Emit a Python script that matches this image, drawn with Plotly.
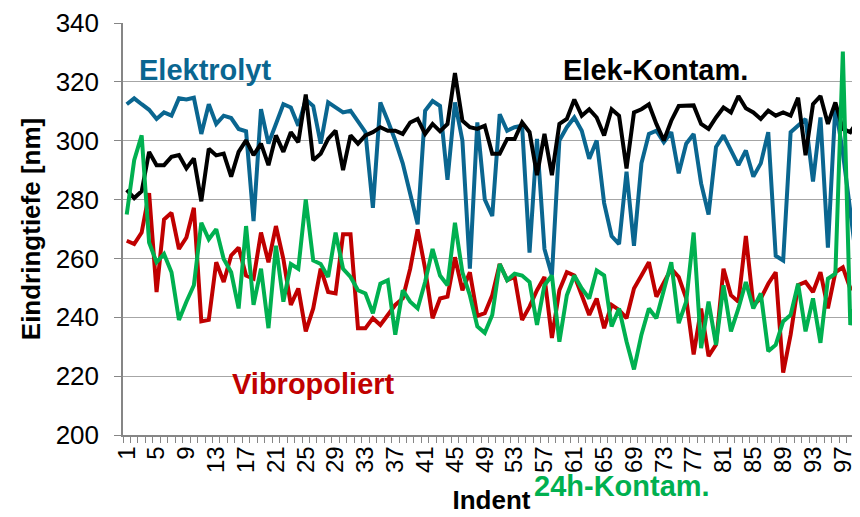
import plotly.graph_objects as go

indent = list(range(1, 101))

elektrolyt = [312.4, 314.4, 312.4, 310.5, 307.4, 309.6, 308.5, 314.4, 314.0, 314.6, 302.3, 312.4,
              305.7, 308.5, 307.7, 304.0, 303.2, 272.7, 310.7, 299.0, 305.7, 312.4, 311.3, 305.1,
              314.0, 311.8, 299.0, 313.0, 311.3, 309.6, 310.2, 306.8, 302.9, 277.2, 313.0, 306.8,
              300.1, 292.3, 282.2, 271.6, 310.2, 313.5, 311.8, 286.7, 313.0, 300.1, 256.5, 306.2,
              280.0, 274.4, 309.0, 303.4, 304.6, 305.1, 262.0, 300.6, 263.2, 254.2, 300.1, 304.6,
              307.9, 303.4, 293.9, 300.1, 278.8, 267.6, 264.9, 289.5, 264.3, 292.3, 302.3, 303.4,
              299.5, 302.9, 288.9, 299.0, 302.3, 285.5, 274.9, 297.9, 301.8, 296.7, 291.7, 296.7,
              287.8, 292.3, 302.9, 260.9, 259.3, 302.9, 305.1, 307.4, 286.1, 307.9, 263.7, 311.8,
              296.0, 276.0, 256.0, 275.0]

elek_kontam = [283.3, 280.5, 282.8, 296.2, 291.7, 291.7, 294.5, 295.1, 290.6, 294.0, 279.4, 297.3,
               295.0, 295.6, 287.8, 296.2, 300.1, 295.1, 299.0, 291.7, 301.8, 296.2, 302.9, 299.5,
               315.7, 293.4, 295.6, 300.6, 303.4, 290.0, 301.8, 299.0, 301.8, 302.9, 304.6, 303.4,
               303.4, 302.3, 306.2, 307.4, 302.3, 305.7, 303.2, 305.7, 323.0, 306.8, 304.6, 304.0,
               305.1, 295.6, 295.6, 300.6, 300.6, 306.2, 302.9, 288.3, 302.3, 288.3, 305.7, 307.4,
               314.0, 308.5, 310.7, 307.9, 301.8, 310.7, 308.5, 290.6, 309.6, 310.7, 312.4, 305.7,
               300.1, 306.8, 311.8, 311.8, 312.0, 305.7, 304.0, 307.9, 311.3, 309.6, 315.2, 311.0,
               309.6, 307.4, 310.2, 308.5, 309.6, 308.5, 314.6, 295.1, 312.4, 315.2, 305.7, 313.0,
               304.0, 302.9, 306.8, 309.6]

vibropoliert = [266.0, 264.9, 268.8, 282.2, 248.6, 273.2, 275.5, 263.2, 267.1, 277.2, 238.6, 239.1,
                258.7, 252.0, 261.0, 263.7, 254.2, 253.1, 268.8, 258.7, 271.0, 259.8, 244.2, 249.8,
                235.2, 243.0, 256.5, 248.6, 248.1, 268.2, 268.2, 236.3, 236.3, 239.7, 237.4, 240.8,
                244.2, 246.4, 256.5, 269.9, 256.5, 239.7, 246.4, 247.0, 260.4, 249.2, 255.3, 240.5,
                241.4, 247.5, 258.1, 252.6, 253.7, 239.1, 243.6, 249.2, 253.7, 233.0, 249.2, 255.3,
                254.2, 247.5, 240.8, 246.4, 236.3, 244.2, 242.5, 239.7, 249.8, 254.2, 258.7, 247.0,
                252.0, 256.5, 253.7, 246.4, 227.4, 243.0, 226.8, 230.7, 256.5, 247.5, 245.3, 267.6,
                244.2, 246.4, 251.4, 255.3, 221.2, 234.1, 250.9, 252.0, 248.6, 255.3, 243.0, 255.3,
                257.0, 249.8, 249.8, 234.0]

h24_kontam = [274.9, 293.4, 301.8, 265.4, 258.7, 261.5, 255.3, 239.1, 245.3, 250.9, 272.1, 266.5,
              269.9, 259.8, 255.3, 243.0, 271.0, 244.2, 256.5, 236.3, 264.3, 245.3, 258.1, 256.5,
              280.0, 259.3, 258.1, 253.7, 268.8, 256.5, 253.7, 249.2, 248.1, 241.4, 251.4, 252.6,
              234.1, 249.2, 245.3, 243.0, 252.0, 263.2, 254.2, 250.9, 272.1, 255.3, 247.5, 236.9,
              234.7, 240.8, 258.1, 252.6, 254.8, 254.2, 252.0, 237.4, 250.9, 254.2, 231.7, 247.5,
              254.2, 249.8, 246.4, 255.9, 254.2, 236.9, 243.0, 231.8, 222.3, 234.1, 243.0, 239.7,
              249.2, 258.7, 238.0, 245.3, 268.8, 229.5, 245.3, 230.6, 250.9, 235.2, 243.0, 252.0,
              243.0, 248.1, 228.5, 230.6, 238.6, 240.8, 251.4, 235.2, 246.4, 231.3, 253.1, 254.8,
              330.3, 237.4, 248.1, 250.0]

x_tick_labels = [str(v) for v in range(1, 98, 4)]
y_ticks = [200, 220, 240, 260, 280, 300, 320, 340]

BLUE = "#0A6690"
RED = "#C00000"
GREEN = "#00B050"
BLACK = "#000000"
GRID = "#A6A6A6"
AXIS = "#868686"
FONT = "Liberation Sans, Arial, sans-serif"

fig = go.Figure()
for name, ys, col in [("Elektrolyt", elektrolyt, BLUE),
                      ("Vibropoliert", vibropoliert, RED),
                      ("Elek-Kontam.", elek_kontam, BLACK),
                      ("24h-Kontam.", h24_kontam, GREEN)]:
    fig.add_trace(go.Scatter(x=indent, y=ys, mode="lines", name=name,
                             line=dict(color=col, width=4), showlegend=False))

# plot area: 737 x 417 px
labels = [("Elektrolyt", 0.1115, 0.887, BLUE),
          ("Elek-Kontam.", 0.723, 0.887, BLACK),
          ("Vibropoliert", 0.258, 0.1247, RED),
          ("24h-Kontam.", 0.677, -0.1247, GREEN)]
for txt, ax_, ay_, col in labels:
    fig.add_annotation(text=f"<b>{txt}</b>", x=ax_, y=ay_, xref="paper", yref="paper",
                       showarrow=False, xanchor="center", yanchor="middle",
                       font=dict(family=FONT, size=29, color=col))

# the page body adds an 8px offset, so the figure is 8px smaller than the window
fig.update_layout(
    width=852, height=509,
    margin=dict(l=115, r=0, t=10, b=82),
    paper_bgcolor="white", plot_bgcolor="white",
    font=dict(family=FONT, color="black"),
    xaxis=dict(
        range=[0.5, 99.3], tickmode="array",
        tickvals=list(range(1, 98, 4)), ticktext=x_tick_labels,
        tickangle=-90, ticks="", showgrid=False, zeroline=False,
        showline=True, linecolor=AXIS, linewidth=1.5,
        tickfont=dict(family=FONT, size=24, color="black"),
        ticklabeloverflow="allow",
        minor=dict(tickmode="linear", tick0=0.5, dtick=1, ticks="outside",
                   ticklen=6, tickcolor=AXIS, tickwidth=1.2, showgrid=False),
        title=dict(text="<b>Indent</b>", font=dict(family=FONT, size=26, color="black"), standoff=19),
    ),
    yaxis=dict(
        range=[200, 340], tickmode="array", tickvals=y_ticks,
        ticks="outside", ticklen=7, tickcolor=AXIS, tickwidth=1.2,
        showgrid=True, gridcolor=GRID, gridwidth=1.3, zeroline=False,
        showline=True, linecolor=AXIS, linewidth=1.5,
        tickfont=dict(family=FONT, size=26, color="black"),
        ticklabelstandoff=10, ticklabeloverflow="allow",
        title=dict(text="<b>Eindringtiefe [nm]</b>", font=dict(family=FONT, size=26, color="black"), standoff=8),
    ),
)

fig.write_html("out.html")
